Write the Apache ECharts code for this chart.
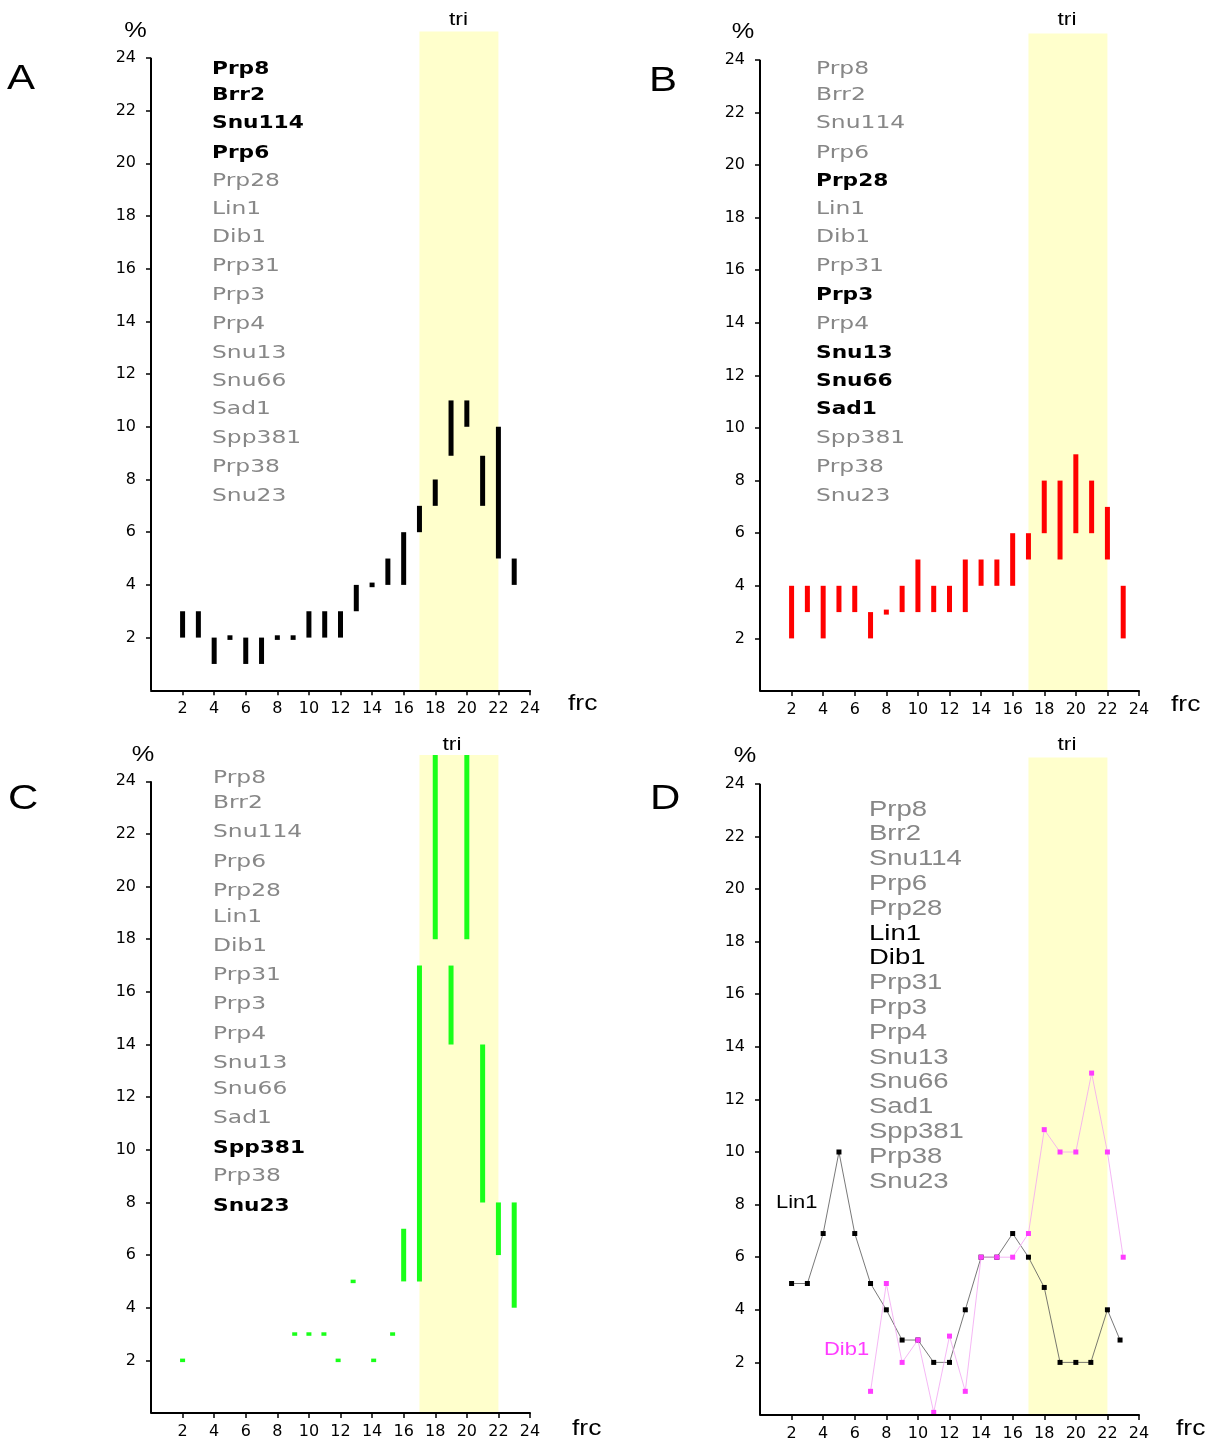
<!DOCTYPE html>
<html>
<head>
<meta charset="utf-8">
<script src="https://cdn.jsdelivr.net/npm/echarts@6/dist/echarts.min.js"></script>
<style>
html,body{margin:0;padding:0;background:#fff;}
#chart{width:1210px;height:1443px;}
</style>
</head>
<body>
<div id="chart"></div>
<script>
// ---------------- DATA ----------------
const X_TICKS = [2, 4, 6, 8, 10, 12, 14, 16, 18, 20, 22, 24];
const Y_TICKS = [2, 4, 6, 8, 10, 12, 14, 16, 18, 20, 22, 24];

const PROTEINS = ['Prp8','Brr2','Snu114','Prp6','Prp28','Lin1','Dib1','Prp31','Prp3','Prp4','Snu13','Snu66','Sad1','Spp381','Prp38','Snu23'];
const HIGHLIGHT_A = ['Prp8','Brr2','Snu114','Prp6'];
const HIGHLIGHT_B = ['Prp28','Prp3','Snu13','Snu66','Sad1'];
const HIGHLIGHT_C = ['Spp381','Snu23'];
const HIGHLIGHT_D = ['Lin1','Dib1'];

// Panel A (black ranges)
const frcA  = [2, 3, 4, 5, 6, 7, 8, 9, 10, 11, 12, 13, 14, 15, 16, 17, 18, 19, 20, 21, 22, 23];
const lowA  = [2, 2, 1, 2, 1, 1, 2, 2, 2, 2, 2, 3, 4, 4, 4, 6, 7, 8.9, 10, 7, 5, 4];
const highA = [3, 3, 2, 2, 2, 2, 2, 2, 3, 3, 3, 4, 4, 5, 6, 7, 8, 11, 11, 8.9, 10, 5];

// Panel B (red ranges)
const frcB  = [2, 3, 4, 5, 6, 7, 8, 9, 10, 11, 12, 13, 14, 15, 16, 17, 18, 19, 20, 21, 22, 23];
const lowB  = [2, 3, 2, 3, 3, 2, 3, 3, 3, 3, 3, 3, 4, 4, 4, 5, 6, 5, 6, 6, 5, 2];
const highB = [4, 4, 4, 4, 4, 3, 3, 4, 5, 4, 4, 5, 5, 5, 6, 6, 8, 8, 9, 8, 7, 4];

// Panel C (green ranges)
const frcC  = [2, 9.1, 10, 10.95, 11.85, 12.8, 14.1, 15.3, 16, 17, 18, 19, 20, 21, 22, 23];
const lowC  = [2, 3, 3, 3, 2, 5, 2, 3, 5, 5, 18, 14, 18, 8, 6, 4];
const highC = [2, 3, 3, 3, 2, 5, 2, 3, 7, 17, 25, 17, 25, 14, 8, 8];

// Panel D (profiles)
const frcLin1 = [2, 3, 4, 5, 6, 7, 8, 9, 10, 11, 12, 13, 14, 15, 16, 17, 18, 19, 20, 20.95, 22, 22.8];
const valLin1 = [5, 5, 6.9, 10, 6.9, 5, 4, 2.85, 2.85, 2, 2, 4, 6, 6, 6.9, 6, 4.85, 2, 2, 2, 4, 2.85];
const frcDib1 = [7, 8, 9, 10, 11, 12, 13, 14, 15, 16, 17, 18, 19, 20, 21, 22, 23];
const valDib1 = [0.9, 5, 2, 2.85, 0.1, 3, 0.9, 6, 6, 6, 6.9, 10.85, 10, 10, 13, 10, 6];

const TRI_START = 17, TRI_END = 22;

// ---------------- LAYOUT ----------------
const GRIDS = [
  {left: 151, top: 31.5, width: 379, height: 658.8},
  {left: 760, top: 33.5, width: 379, height: 657.5},
  {left: 151, top: 755,  width: 379, height: 658},
  {left: 760, top: 757.5, width: 379, height: 657.5}
];
const LIST_Y_AB = [69, 95, 123.5, 153, 181, 209, 237.5, 266.5, 295.5, 324.5, 353.5, 381, 409, 438.5, 467.5, 496];
const LIST_Y_C  = [778, 803.5, 832.5, 862, 891, 917.5, 946.5, 975.5, 1004.5, 1034, 1063, 1089.5, 1118.5, 1148, 1176.5, 1206];
const LIST_Y_D  = PROTEINS.map((_, i) => 809.5 + i * 24.8);

const chart = echarts.init(document.getElementById('chart'), null, {renderer: 'canvas'});

function rangeRenderer(color, w, minH) {
  return function (params, api) {
    const x = api.value(0), lo = api.value(1), hi = api.value(2);
    const pHi = api.coord([x, hi]);
    const pLo = api.coord([x, lo]);
    let top = pHi[1], h = pLo[1] - pHi[1];
    if (h < minH) { const c = (pLo[1] + pHi[1]) / 2; top = c - minH / 2; h = minH; }
    return {type: 'rect', shape: {x: pLo[0] - w / 2, y: top, width: w, height: h}, style: {fill: color}};
  };
}

function labelFormatter(ticks) {
  return function (v) { return ticks.indexOf(Math.round(v * 100) / 100) >= 0 ? '{t|' + v + '}' : ''; };
}
const LABEL_RICH = {t: {fontFamily: 'DejaVu Sans', fontSize: 16, color: '#000'}};

const xAxes = GRIDS.map((g, i) => ({
  type: 'value', gridIndex: i, min: 0, max: 24, interval: 2, z: 5,
  axisLine: {show: true, onZero: false, lineStyle: {color: '#000', width: 2}},
  axisTick: {show: true, inside: false, length: 5, customValues: X_TICKS, lineStyle: {color: '#000', width: 1.5}},
  axisLabel: {show: true, showMinLabel: true, showMaxLabel: true, hideOverlap: false, margin: 11,
    color: '#000', fontFamily: 'DejaVu Sans', fontSize: 16, formatter: labelFormatter(X_TICKS), rich: LABEL_RICH},
  splitLine: {show: false}
}));
const yAxes = GRIDS.map((g, i) => ({
  type: 'value', gridIndex: i, min: 0, max: 25, interval: 2, z: 5,
  axisLine: {show: false},
  axisTick: {show: true, length: 5, customValues: Y_TICKS, lineStyle: {color: '#000', width: 1.5}},
  axisLabel: {show: true, hideOverlap: false, margin: 15,
    color: '#000', fontFamily: 'DejaVu Sans', fontSize: 16, formatter: labelFormatter(Y_TICKS), rich: LABEL_RICH},
  splitLine: {show: false}
}));

const series = [];
GRIDS.forEach((g, i) => {
  series.push({
    type: 'line', xAxisIndex: i, yAxisIndex: i, data: [], z: 1, silent: true,
    markArea: {silent: true, itemStyle: {color: '#ffffcc'}, data: [[{xAxis: TRI_START}, {xAxis: TRI_END}]]},
    markLine: {silent: true, symbol: ['none', 'none'], label: {show: false},
      lineStyle: {color: '#000', width: 2, type: 'solid'},
      data: [[{coord: [0, 0]}, {coord: [0, 24]}]]}
  });
});

series.push({type: 'custom', xAxisIndex: 0, yAxisIndex: 0, z: 3, encode: {x: 0, y: [1, 2]},
  renderItem: rangeRenderer('#000000', 5, 4.6), data: frcA.map((f, i) => [f, lowA[i], highA[i]])});
series.push({type: 'custom', xAxisIndex: 1, yAxisIndex: 1, z: 3, encode: {x: 0, y: [1, 2]},
  renderItem: rangeRenderer('#ff0000', 5, 5), data: frcB.map((f, i) => [f, lowB[i], highB[i]])});
series.push({type: 'custom', xAxisIndex: 2, yAxisIndex: 2, z: 3, encode: {x: 0, y: [1, 2]},
  renderItem: rangeRenderer('#19ff19', 5, 3.5), data: frcC.map((f, i) => [f, lowC[i], highC[i]])});
series.push({type: 'line', name: 'Lin1', xAxisIndex: 3, yAxisIndex: 3, z: 3,
  data: frcLin1.map((f, i) => [f, valLin1[i]]), symbol: 'rect', symbolSize: 5, showSymbol: true,
  lineStyle: {color: '#555555', width: 0.8}, itemStyle: {color: '#000000'}});
series.push({type: 'line', name: 'Dib1', xAxisIndex: 3, yAxisIndex: 3, z: 4,
  data: frcDib1.map((f, i) => [f, valDib1[i]]), symbol: 'rect', symbolSize: 5, showSymbol: true,
  lineStyle: {color: '#f2a4f2', width: 0.8}, itemStyle: {color: '#ff3cff'}});

// ---------------- TEXT ----------------
function txt(x, y, text, opts) {
  const o = Object.assign({size: 18, family: 'Liberation Sans', weight: 'normal', fill: '#000', align: 'left', sx: 1.22}, opts || {});
  return {type: 'text', x: x, y: y, scaleX: o.sx, scaleY: 1, silent: true, z: 10,
    style: {text: text, fontSize: o.size, fontFamily: o.family, fontWeight: o.weight, fill: o.fill,
      align: o.align, textAlign: o.align, verticalAlign: 'middle', textVerticalAlign: 'middle'}};
}
const graphics = [];
function list(x, ys, highlight, fam, size, boldHighlight, sxBold, sxReg, sizeReg) {
  PROTEINS.forEach((p, i) => {
    const hl = highlight.indexOf(p) >= 0;
    const bold = hl && boldHighlight;
    graphics.push(txt(x, ys[i], p, {size: bold ? size : sizeReg, family: fam, sx: bold ? sxBold : sxReg,
      weight: bold ? 'bold' : 'normal', fill: hl ? '#000000' : '#878787'}));
  });
}
list(212, LIST_Y_AB, HIGHLIGHT_A, 'DejaVu Sans', 17.5, true, 1.24, 1.3, 18);
list(816, LIST_Y_AB, HIGHLIGHT_B, 'DejaVu Sans', 17.5, true, 1.24, 1.3, 18);
list(213, LIST_Y_C, HIGHLIGHT_C, 'DejaVu Sans', 17.5, true, 1.24, 1.3, 18);
list(869, LIST_Y_D, HIGHLIGHT_D, 'Liberation Sans', 22, false, 1.25, 1.25, 22);

const panelText = [
  {letter: 'A', lx: 7,   ly: 79.5, px: 135.5, py: 30.5, tx: 458.5, ty: 20,  fx: 568, fy: 704},
  {letter: 'B', lx: 649, ly: 81,   px: 743,   py: 31.5, tx: 1067,  ty: 20,  fx: 1171, fy: 705},
  {letter: 'C', lx: 8,   ly: 799,  px: 143,   py: 755,  tx: 452,   ty: 745, fx: 572, fy: 1429},
  {letter: 'D', lx: 650, ly: 799,  px: 745,   py: 755.5, tx: 1067, ty: 745, fx: 1176, fy: 1429}
];
panelText.forEach(p => {
  graphics.push(txt(p.lx, p.ly, p.letter, {size: 35, sx: 1.2}));
  graphics.push(txt(p.px, p.py, '%', {size: 22, sx: 1.15, align: 'center'}));
  graphics.push(txt(p.tx, p.ty, 'tri', {size: 19, sx: 1.2, align: 'center'}));
  graphics.push(txt(p.fx, p.fy, 'frc', {size: 22, sx: 1.2}));
});
graphics.push(txt(776, 1203, 'Lin1', {size: 18, sx: 1.22, fill: '#000000'}));
graphics.push(txt(824, 1350, 'Dib1', {size: 18, sx: 1.22, fill: '#ff3cff'}));

chart.setOption({
  animation: false,
  backgroundColor: '#ffffff',
  grid: GRIDS.map(g => Object.assign({containLabel: false}, g)),
  xAxis: xAxes,
  yAxis: yAxes,
  series: series,
  graphic: {elements: graphics}
});
</script>
</body>
</html>
